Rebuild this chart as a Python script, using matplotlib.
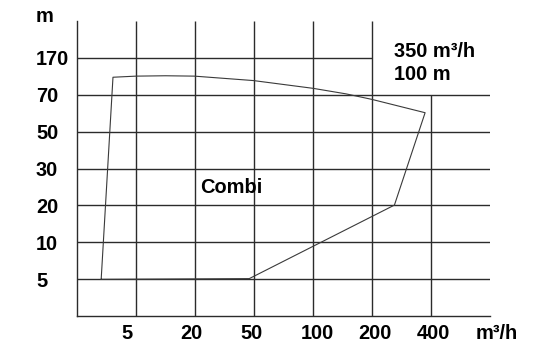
import matplotlib
matplotlib.use("Agg")
import matplotlib.pyplot as plt
from matplotlib.transforms import blended_transform_factory

# Achsenbeschriftungen (gleichabständige Raster-Stufen)
x_labels = ["5", "20", "50", "100", "200", "400"]
y_labels = ["5", "10", "20", "30", "50", "70", "170"]

# Einsatzbereich "Combi" in Rasterstufen (x: Förderstrom, y: Förderhöhe)
combi_x = [0.41, 0.61, 1.00, 1.50, 1.99, 2.99, 4.00, 4.56, 5.00, 5.90, 5.38, 2.92, 0.41]
combi_y = [1.00, 6.47, 6.50, 6.51, 6.50, 6.38, 6.17, 6.02, 5.87, 5.51, 3.01, 1.02, 1.00]

# Lage der x-Beschriftungen (leicht versetzt wie im Original)
x_label_pos = [0.85, 1.94, 2.95, 4.08, 5.05, 6.04]

grid_col = "#2b2b2b"
font = "Liberation Sans"

fig = plt.figure(figsize=(5.35, 3.44), dpi=100)
ax = fig.add_axes([0.1439, 0.0805, 0.9159 - 0.1439, 0.9398 - 0.0805])

nx = len(x_labels) + 1
ny = len(y_labels) + 1
ax.set_xlim(0, nx)
ax.set_ylim(0, ny)

# Raster: senkrechte Linien
for i in range(1, len(x_labels) + 1):
    top = ny if i < len(x_labels) else len(y_labels) - 1
    ax.vlines(i, 0, top, color=grid_col, lw=1.0)
# Raster: waagerechte Linien
for j in range(1, len(y_labels) + 1):
    right = nx if j < len(y_labels) else len(x_labels) - 1
    ax.hlines(j, 0, right, color=grid_col, lw=1.0)

for s in ["top", "right"]:
    ax.spines[s].set_visible(False)
for s in ["left", "bottom"]:
    ax.spines[s].set_color(grid_col)
    ax.spines[s].set_linewidth(1.0)

# Einsatzbereich
ax.plot(combi_x, combi_y, color="#3a3a3a", lw=0.8)

# y-Beschriftung
ax.set_xticks([])
ax.set_yticks(range(1, len(y_labels) + 1))
ax.set_yticklabels(y_labels, fontfamily=font, fontweight="bold", fontsize=14.4, ha="left")
ax.tick_params(axis="y", length=0, pad=29.5)

# x-Beschriftung
trans = blended_transform_factory(ax.transData, ax.transAxes)
for xp, lab in zip(x_label_pos, x_labels):
    ax.text(xp, -0.077, lab, transform=trans, ha="center", va="baseline",
            fontfamily=font, fontweight="bold", fontsize=14.4, clip_on=False)
ax.text(7.12, -0.077, "m³/h", transform=trans, ha="center", va="baseline",
        fontfamily=font, fontweight="bold", fontsize=14.4, clip_on=False)

fig.text(36 / 535, 1 - 21.7 / 344, "m", ha="left", va="baseline",
         fontfamily=font, fontweight="bold", fontsize=14.4)

ax.text(2.09, 3.33, "Combi", ha="left", va="baseline",
        fontfamily=font, fontweight="bold", fontsize=14.4)
ax.text(5.376, 7.03, "350 m³/h", ha="left", va="baseline",
        fontfamily=font, fontweight="bold", fontsize=14.4)
ax.text(5.376, 6.40, "100 m", ha="left", va="baseline",
        fontfamily=font, fontweight="bold", fontsize=14.4)

fig.savefig("out.png", dpi=100)
